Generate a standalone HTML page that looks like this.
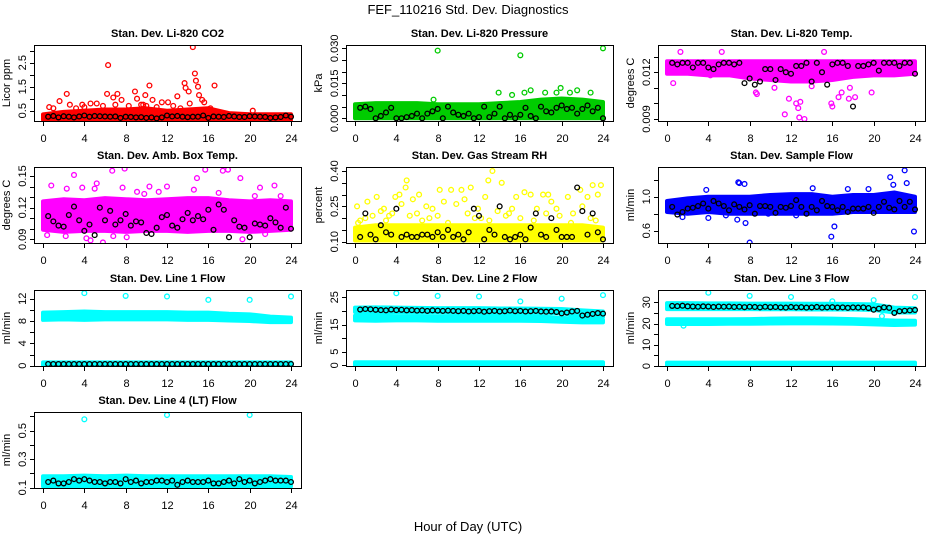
<!DOCTYPE html>
<html><head><meta charset="utf-8"><style>
html,body{margin:0;padding:0;background:#fff;}
svg text{font-family:"Liberation Sans",Arial,sans-serif;fill:#000;}
</style></head><body>
<svg id="chart" width="936" height="540" viewBox="0 0 936 540" xmlns="http://www.w3.org/2000/svg">
<rect width="936" height="540" fill="#fff"/>
<text x="468" y="14" font-size="13" text-anchor="middle">FEF_110216  Std. Dev. Diagnostics</text>
<text x="468" y="531" font-size="13" text-anchor="middle">Hour of Day (UTC)</text>
</svg>
<script>
// shared x data
const xTicks = [0,4,8,12,16,20,24];
const bandHours = [0,2,4,6,8,10,12,14,16,18,20,22,24];
const blackHours = [0.5,1,1.5,2,2.5,3,3.5,4,4.5,5,5.5,6,6.5,7,7.5,8,8.5,9,9.5,10,10.5,11,11.5,12,12.5,13,13.5,14,14.5,15,15.5,16,16.5,17,17.5,18,18.5,19,19.5,20,20.5,21,21.5,22,22.5,23,23.5,24];

// Panel 1: CO2
const co2Low = [0.12,0.12,0.12,0.12,0.12,0.12,0.12,0.12,0.12,0.12,0.12,0.12,0.12];
const co2High = [0.35,0.45,0.5,0.55,0.55,0.6,0.5,0.55,0.6,0.4,0.35,0.35,0.35];
const co2OutX = [0.6,1.6,2.3,2.6,3.8,6.3,6.2,7.2,6.8,8.9,9.1,9.9,10.3,10.6,11.5,12.1,13.0,13.7,13.8,14.1,14.5,14.7,14.8,15.0,15.1,15.4,16.6,20.3,4.6,5.2,7.6,9.5,1.0,3.2,5.8,7.0,8.3,9.7,11.0,12.6,14.2,15.6,16.2,4.0,10.0,13.3];
const co2OutY = [0.65,0.9,1.2,0.75,0.75,2.4,1.2,1.2,1.05,1.3,1.0,1.15,1.55,0.95,0.85,0.85,1.1,1.65,1.45,1.3,3.15,2.05,1.75,1.5,1.15,0.95,1.55,0.5,0.8,0.8,0.95,0.75,0.6,0.6,0.7,0.75,0.7,0.75,0.65,0.7,0.8,0.85,0.6,0.65,0.7,0.6];
const co2Black = [0.25,0.28,0.22,0.27,0.25,0.22,0.26,0.3,0.25,0.28,0.27,0.26,0.25,0.26,0.2,0.25,0.24,0.22,0.23,0.2,0.22,0.18,0.22,0.3,0.26,0.28,0.25,0.23,0.25,0.25,0.3,0.2,0.26,0.25,0.24,0.28,0.26,0.24,0.24,0.27,0.26,0.25,0.24,0.2,0.22,0.24,0.3,0.25];

// Panel 2: Pressure
const presLow = [0,0,0,0,0,0,0,0,0,0,0,0,0];
const presHigh = [0.006,0.0065,0.0065,0.0065,0.006,0.006,0.006,0.0065,0.007,0.008,0.0085,0.008,0.007];
const presOutX = [8,16,24,13.9,16.4,17,18.4,19.9,21.5,20.8,22.8,15.2,19.5,7.6];
const presOutY = [0.029,0.027,0.030,0.011,0.011,0.012,0.011,0.013,0.012,0.011,0.011,0.010,0.011,0.008];
const presBlack = [0.0045,0.005,0.004,0.0,0.001,0.0025,0.0045,0.0,0.0,0.0005,0.001,0.002,0.0,0.002,0.003,0.004,0.0,0.005,0.0025,0.0015,0.001,0.002,0.0,0.0005,0.005,0.0005,0.002,0.005,0.0,0.0015,0.0,0.0015,0.0045,0.001,0.0,0.005,0.003,0.0025,0.0045,0.0055,0.004,0.0045,0.002,0.004,0.0055,0.003,0.0045,0.0];

// Panel 3: Li-820 Temp
const tempLow = [0.0119,0.0119,0.0118,0.0118,0.0116,0.0115,0.0114,0.0114,0.0115,0.0117,0.0118,0.0118,0.0119];
const tempHigh = [0.0127,0.0127,0.0127,0.0127,0.0127,0.0127,0.0127,0.0127,0.0127,0.0127,0.0127,0.0127,0.0127];
const tempOutX = [0.6,1.2,1.3,5.3,8.6,8.7,11.4,11.8,12.5,12.7,12.9,13.3,12.8,15.2,15.9,16.0,16.6,17.7,17.6,18.2,19.8,16.9,4.2,2.3,10.4,14.0];
const tempOutY = [0.0113,0.0121,0.0133,0.0133,0.0107,0.0106,0.0093,0.0103,0.0100,0.0097,0.0101,0.0090,0.0091,0.0133,0.0100,0.0098,0.0104,0.0110,0.0103,0.0104,0.0107,0.0107,0.0118,0.0121,0.0110,0.0111];
const tempBlack = [0.0126,0.0125,0.0126,0.0126,0.0123,0.0126,0.0126,0.0123,0.0122,0.0125,0.0126,0.0126,0.0125,0.0126,0.0113,0.0116,0.0112,0.0114,0.0122,0.0122,0.0115,0.0122,0.0120,0.0119,0.0124,0.0124,0.0126,0.0114,0.0126,0.0120,0.0112,0.0125,0.0126,0.0126,0.0124,0.0098,0.0124,0.0124,0.0125,0.0126,0.0121,0.0126,0.0126,0.0126,0.0124,0.0126,0.0126,0.0119];

// Panel 4: Amb. Box Temp
const ambLow = [0.099,0.097,0.098,0.098,0.097,0.098,0.098,0.097,0.098,0.098,0.097,0.098,0.099];
const ambHigh = [0.126,0.128,0.127,0.129,0.128,0.127,0.128,0.129,0.129,0.127,0.126,0.127,0.126];
const ambOutX = [0.8,0.4,2.3,2.2,3.0,3.8,4.2,4.6,5.2,5.8,6.7,6.8,7.9,8.1,7.7,9.1,10.3,11.2,12.0,14.9,14.6,15.7,17.0,17.9,17.4,19.1,19.3,20.5,21.0,21.5,22.4,23.0,23.9,5.0,9.8];
const ambOutY = [0.141,0.094,0.138,0.093,0.151,0.139,0.091,0.089,0.143,0.087,0.155,0.093,0.157,0.092,0.139,0.135,0.140,0.135,0.140,0.148,0.137,0.156,0.134,0.156,0.155,0.148,0.090,0.131,0.139,0.095,0.141,0.131,0.119,0.138,0.133];
const ambBlack = [0.112,0.107,0.103,0.102,0.113,0.121,0.108,0.098,0.104,0.094,0.12,0.108,0.117,0.104,0.108,0.114,0.103,0.107,0.106,0.096,0.095,0.101,0.111,0.113,0.103,0.101,0.109,0.115,0.108,0.112,0.109,0.118,0.099,0.123,0.118,0.092,0.108,0.102,0.101,0.092,0.105,0.104,0.103,0.11,0.106,0.101,0.12,0.1];

// Panel 5: Gas Stream RH
const rhLow = [0.105,0.105,0.105,0.105,0.105,0.105,0.105,0.105,0.105,0.105,0.105,0.105,0.105];
const rhHigh = [0.16,0.17,0.17,0.17,0.17,0.17,0.17,0.17,0.17,0.17,0.17,0.17,0.16];
const rhOutX = [0.2,0.5,1.2,2.1,2.8,3.3,3.9,4.3,4.9,5.0,5.6,6.2,6.9,7.5,8.2,8.6,9.3,10.3,10.6,11.2,11.9,12.6,13.3,13.8,14.2,14.9,15.6,16.4,17.0,17.6,18.2,18.7,19.5,20.6,21.1,21.8,22.5,23.0,23.5,23.8,2.5,6.0,9.8,15.2,19.0,22.0,1.7,4.5,7.2,12.9,0.3,1.0,3.0,5.3,6.5,8.0,9.0,10.9,11.6,13.0,14.6,16.0,17.3,18.5,19.8,20.9,22.8,23.3,3.6,12.2];
const rhOutY = [0.25,0.19,0.27,0.29,0.24,0.21,0.29,0.30,0.33,0.36,0.28,0.30,0.25,0.24,0.32,0.27,0.32,0.32,0.28,0.33,0.24,0.29,0.40,0.23,0.35,0.22,0.29,0.31,0.30,0.24,0.30,0.30,0.24,0.29,0.22,0.32,0.29,0.34,0.30,0.34,0.23,0.22,0.26,0.24,0.27,0.25,0.21,0.26,0.20,0.36,0.18,0.20,0.19,0.21,0.19,0.21,0.18,0.22,0.20,0.19,0.21,0.20,0.19,0.22,0.21,0.18,0.20,0.19,0.22,0.20];
const rhBlack = [0.12,0.22,0.13,0.11,0.17,0.14,0.13,0.24,0.12,0.13,0.12,0.12,0.13,0.13,0.12,0.14,0.12,0.15,0.12,0.13,0.11,0.14,0.24,0.21,0.11,0.15,0.13,0.25,0.12,0.11,0.12,0.13,0.11,0.16,0.22,0.13,0.12,0.20,0.15,0.12,0.12,0.12,0.33,0.23,0.13,0.22,0.14,0.11];

// Panel 6: Sample Flow
const sfLow = [0.82,0.8,0.82,0.8,0.8,0.8,0.8,0.8,0.8,0.82,0.82,0.82,0.82];
const sfHigh = [0.95,0.98,1.0,1.0,1.0,1.02,1.03,1.03,1.0,1.02,1.02,1.05,1.0];
const sfOutX = [3.8,4.0,6.8,6.9,7.0,7.5,7.6,8.0,15.9,16.2,21.6,21.9,23.0,23.2,23.9,19.5,17.5,1.5,5.7,9.8,12.5,14.1];
const sfOutY = [1.08,0.75,0.73,1.17,1.16,1.15,0.69,0.46,0.53,0.65,1.23,1.14,1.31,1.16,0.59,1.09,1.09,0.76,0.78,0.80,0.78,1.10];
const sfBlack = [0.88,0.79,0.82,0.86,0.87,0.89,0.92,0.86,0.95,0.92,0.89,0.84,0.91,0.88,0.85,0.90,0.80,0.89,0.89,0.88,0.81,0.88,0.87,0.89,0.96,0.88,0.80,0.88,0.84,0.95,0.89,0.88,0.84,0.88,0.82,0.86,0.86,0.86,0.88,0.81,0.88,0.94,0.87,0.85,0.95,0.88,0.94,0.85];

// Panel 7: Line 1 Flow
const l1HighLow = [8.2,8.3,8.2,8.3,8.3,8.3,8.3,8.2,8.2,8.1,8.0,7.8,7.8];
const l1HighHigh = [9.5,9.6,9.7,9.6,9.6,9.6,9.6,9.5,9.5,9.3,9.2,8.8,8.6];
const l1ZeroLow = [0,0,0,0,0,0,0,0,0,0,0,0,0];
const l1ZeroHigh = [0.6,0.6,0.6,0.6,0.6,0.6,0.6,0.6,0.6,0.6,0.6,0.6,0.6];
const l1OutX = [4,8,12,16,20,24];
const l1OutY = [13.0,12.5,12.4,11.8,11.8,12.4];
const l1Black = [0.3,0.3,0.3,0.3,0.3,0.3,0.3,0.3,0.3,0.3,0.3,0.3,0.3,0.3,0.3,0.3,0.3,0.3,0.3,0.3,0.3,0.3,0.3,0.3,0.3,0.3,0.3,0.3,0.3,0.3,0.3,0.3,0.3,0.3,0.3,0.3,0.3,0.3,0.3,0.3,0.3,0.3,0.3,0.3,0.3,0.3,0.3,0.3];

// Panel 8: Line 2 Flow
const l2ALow = [19.6,19.6,19.6,19.5,19.5,19.4,19.4,19.4,19.4,19.3,19.2,17.8,17.8];
const l2AHigh = [21.2,21.3,21.2,21.1,21.0,21.0,21.0,20.9,20.9,20.8,20.7,20.2,19.8];
const l2BLow = [16.5,16.4,16.5,16.5,16.4,16.4,16.4,16.4,16.4,16.3,16.0,15.8,15.8];
const l2BHigh = [18.2,18.2,18.1,18.1,18.0,18.0,18.0,18.0,18.0,17.9,17.5,16.8,16.7];
const l2ZeroLow = [0,0,0,0,0,0,0,0,0,0,0,0,0];
const l2ZeroHigh = [1.1,1.1,1.1,1.1,1.1,1.1,1.1,1.1,1.1,1.1,1.1,1.1,1.1];
const l2OutX = [4,8,12,16,20,24];
const l2OutY = [26.5,25.5,25.3,23.5,24.5,25.8];
const l2Black = [20.5,20.7,20.6,20.4,20.3,20.2,20.5,20.3,20.4,20.2,20.3,20.1,20.2,20.0,20.2,20.1,20.0,20.1,20.0,19.9,20.0,19.8,19.9,20.0,19.7,19.9,20.0,19.8,19.9,20.1,19.9,20.0,19.8,19.9,20.0,19.8,19.7,19.8,19.6,19.1,19.4,19.8,20.0,18.3,18.6,18.9,19.2,19.0];

// Panel 9: Line 3 Flow
const l3ALow = [26.8,26.8,26.8,26.8,26.8,26.7,26.7,26.6,26.6,26.6,26.4,25.2,25.2];
const l3AHigh = [29.6,29.6,29.5,29.5,29.4,29.4,29.4,29.3,29.3,29.2,29.0,27.5,27.2];
const l3BLow = [19.8,19.8,19.8,19.9,19.9,20.0,20.1,20.1,20.0,19.9,19.6,19.3,19.5];
const l3BHigh = [22.0,22.0,22.0,22.0,22.1,22.3,22.4,22.4,22.3,22.1,21.8,21.4,21.3];
const l3ZeroLow = [0,0,0,0,0,0,0,0,0,0,0,0,0];
const l3ZeroHigh = [1.6,1.6,1.6,1.6,1.6,1.6,1.6,1.6,1.6,1.6,1.6,1.6,1.6];
const l3OutX = [4,8,12,16,20,24,20.8,1.6];
const l3OutY = [34.5,33.0,32.5,30.5,31.0,32.5,23.5,19.0];
const l3Black = [28.3,28.2,28.4,28.1,28.0,27.9,28.1,28.0,27.8,28.0,27.9,28.0,27.8,27.9,27.7,27.9,27.8,27.6,27.9,27.7,27.8,27.6,27.5,27.8,27.6,27.7,27.5,27.6,27.8,27.5,27.6,27.7,27.5,27.6,27.4,27.6,27.5,27.6,27.3,26.5,27.0,27.6,27.4,25.0,25.8,26.0,26.2,26.4];

// Panel 10: Line 4 Flow
const l4Low = [0.11,0.11,0.11,0.11,0.11,0.11,0.11,0.11,0.11,0.11,0.11,0.11,0.11];
const l4High = [0.18,0.18,0.185,0.18,0.185,0.18,0.18,0.18,0.18,0.18,0.18,0.18,0.175];
const l4OutX = [4,12,20];
const l4OutY = [0.58,0.61,0.61];
const l4Black = [0.14,0.15,0.13,0.13,0.14,0.16,0.15,0.16,0.15,0.14,0.14,0.13,0.14,0.14,0.13,0.16,0.14,0.15,0.13,0.14,0.14,0.15,0.15,0.14,0.15,0.12,0.14,0.15,0.14,0.14,0.14,0.15,0.13,0.13,0.14,0.15,0.13,0.16,0.14,0.15,0.13,0.14,0.15,0.16,0.15,0.15,0.15,0.14];

const NS = "http://www.w3.org/2000/svg";
const svg = document.getElementById('chart');
function mk(tag, attrs, parent) {
  const e = document.createElementNS(NS, tag);
  for (const k in attrs) e.setAttribute(k, attrs[k]);
  parent.appendChild(e);
  return e;
}

const panels = [
  {key:'co2', title:'Stan. Dev. Li-820 CO2', ylab:'Licor ppm', col:0, row:0, color:'#ff0000', yA:[0.5,110.7], yB:[2.5,62.7], ticks:[0.5,1,1.5,2,2.5,3], labels:[0.5,1.5,2.5], fmt:1,
    bands:[[co2Low,co2High]], ox:co2OutX, oy:co2OutY, blk:co2Black},
  {key:'pressure', title:'Stan. Dev. Li-820 Pressure', ylab:'kPa', col:1, row:0, color:'#00cc00', yA:[0,118.3], yB:[0.03,48.3], ticks:[0,0.005,0.01,0.015,0.02,0.025,0.03], labels:[0,0.015,0.03], fmt:3,
    bands:[[presLow,presHigh]], ox:presOutX, oy:presOutY, blk:presBlack},
  {key:'li820-temp', title:'Stan. Dev. Li-820 Temp.', ylab:'degrees C', col:2, row:0, color:'#ff00ff', yA:[0.009,119], yB:[0.012,72.2], ticks:[0.009,0.010,0.011,0.012,0.013], labels:[0.009,0.012], fmt:3,
    bands:[[tempLow,tempHigh]], ox:tempOutX, oy:tempOutY, blk:tempBlack},
  {key:'amb-box-temp', title:'Stan. Dev. Amb. Box Temp.', ylab:'degrees C', col:0, row:1, color:'#ff00ff', yA:[0.09,239.3], yB:[0.15,176], ticks:[0.09,0.10,0.11,0.12,0.13,0.14,0.15], labels:[0.09,0.12,0.15], fmt:2,
    bands:[[ambLow,ambHigh]], ox:ambOutX, oy:ambOutY, blk:ambBlack},
  {key:'gas-stream-rh', title:'Stan. Dev. Gas Stream RH', ylab:'percent', col:1, row:1, color:'#ffff00', yA:[0.10,241.7], yB:[0.40,171], ticks:[0.10,0.15,0.20,0.25,0.30,0.35,0.40], labels:[0.10,0.25,0.40], fmt:2,
    bands:[[rhLow,rhHigh]], ox:rhOutX, oy:rhOutY, blk:rhBlack},
  {key:'sample-flow', title:'Stan. Dev. Sample Flow', ylab:'ml/min', col:2, row:1, color:'#0000ff', yA:[0.6,230.7], yB:[1.0,196.7], ticks:[0.6,0.8,1.0,1.2], labels:[0.6,1.0], fmt:1,
    bands:[[sfLow,sfHigh]], ox:sfOutX, oy:sfOutY, blk:sfBlack},
  {key:'line1-flow', title:'Stan. Dev. Line 1 Flow', ylab:'ml/min', col:0, row:2, color:'#00ffff', yA:[0,365.7], yB:[12,298.7], ticks:[0,2,4,6,8,10,12], labels:[0,4,8,12], fmt:0,
    bands:[[l1HighLow,l1HighHigh],[l1ZeroLow,l1ZeroHigh]], ox:l1OutX, oy:l1OutY, blk:l1Black},
  {key:'line2-flow', title:'Stan. Dev. Line 2 Flow', ylab:'ml/min', col:1, row:2, color:'#00ffff', yA:[0,365.3], yB:[25,297.3], ticks:[0,5,10,15,20,25], labels:[0,5,15,25], fmt:0,
    bands:[[l2ALow,l2AHigh],[l2BLow,l2BHigh],[l2ZeroLow,l2ZeroHigh]], ox:l2OutX, oy:l2OutY, blk:l2Black},
  {key:'line3-flow', title:'Stan. Dev. Line 3 Flow', ylab:'ml/min', col:2, row:2, color:'#00ffff', yA:[0,366], yB:[30,302.3], ticks:[0,5,10,15,20,25,30], labels:[0,10,20,30], fmt:0,
    bands:[[l3ALow,l3AHigh],[l3BLow,l3BHigh],[l3ZeroLow,l3ZeroHigh]], ox:l3OutX, oy:l3OutY, blk:l3Black},
  {key:'line4-flow', title:'Stan. Dev. Line 4 (LT) Flow', ylab:'ml/min', col:0, row:3, color:'#00ffff', yA:[0.1,487.7], yB:[0.5,430.7], ticks:[0.1,0.2,0.3,0.4,0.5,0.6], labels:[0.1,0.3,0.5], fmt:1,
    bands:[[l4Low,l4High]], ox:l4OutX, oy:l4OutY, blk:l4Black}
];

const rowTops = [45,167,290,412];
panels.forEach(p => {
  const left = 34 + 312*p.col, width = 267, top = rowTops[p.row], height = 76, bottom = top+height;
  const x0 = left + 9, xs = 248/24;
  const X = h => x0 + h*xs;
  const ys = (p.yB[1]-p.yA[1])/(p.yB[0]-p.yA[0]);
  const Y = v => p.yA[1] + (v - p.yA[0])*ys;

  const g = mk('g', {}, svg);
  
  

  const clipId = 'clip-' + p.key;
  const cp = mk('clipPath', {id: clipId}, g);
  mk('rect', {x:left, y:top, width:width, height:height}, cp);
  const plot = mk('g', {'clip-path':'url(#'+clipId+')'}, g);
  
  

  p.bands.forEach(b => {
    let pts = [];
    bandHours.forEach((h,i) => pts.push(X(h)+','+Y(b[1][i])));
    for (let i = bandHours.length-1; i >= 0; i--) pts.push(X(bandHours[i])+','+Y(b[0][i]));
    const poly = mk('polygon', {points: pts.join(' '), fill: p.color, stroke: p.color, 'stroke-width': 4, 'stroke-linejoin':'round'}, plot);
    
    
  });
  p.ox.forEach((h,i) => {
    const c = mk('circle', {cx: X(h), cy: Y(p.oy[i]), r: 2.4, fill: 'none', stroke: p.color, 'stroke-width': 1.3}, plot);
    
    
  });
  blackHours.forEach((h,i) => {
    const c = mk('circle', {cx: X(h), cy: Y(p.blk[i]), r: 2.4, fill: 'none', stroke: '#000', 'stroke-width': 1.3}, plot);
    
    
  });

  const box = mk('rect', {x:left+0.5, y:top+0.5, width:width, height:height, fill:'none', stroke:'#000', 'stroke-width':1}, g);
  
  

  const t = mk('text', {x: left+width/2, y: top-8, 'font-size': 11, 'font-weight':'bold', 'text-anchor':'middle'}, g);
  t.textContent = p.title;
  
  

  xTicks.forEach(h => {
    const px = Math.round(X(h))+0.5;
    const l = mk('line', {x1:px, x2:px, y1:bottom+0.5, y2:bottom+5, stroke:'#000'}, g);
    
    
    const tx = mk('text', {x:px, y:bottom+21, 'font-size':11, 'text-anchor':'middle'}, g);
    tx.textContent = h;
    
    
  });
  p.ticks.forEach(v => {
    const py = Math.round(Y(v))+0.5;
    const l = mk('line', {x1:left-4, x2:left+0.5, y1:py, y2:py, stroke:'#000'}, g);
    
    
  });
  p.labels.forEach(v => {
    const py = Y(v);
    const tx = mk('text', {x:0, y:0, 'font-size':11, 'text-anchor':'middle', transform:'translate('+(left-8)+','+py+') rotate(-90)'}, g);
    tx.textContent = v.toFixed(p.fmt);
    
    
  });
  const yl = mk('text', {x:0, y:0, 'font-size':11, 'text-anchor':'middle', transform:'translate('+(left-24)+','+(top+height/2)+') rotate(-90)'}, g);
  yl.textContent = p.ylab;
  
  
});
</script>
</body></html>
